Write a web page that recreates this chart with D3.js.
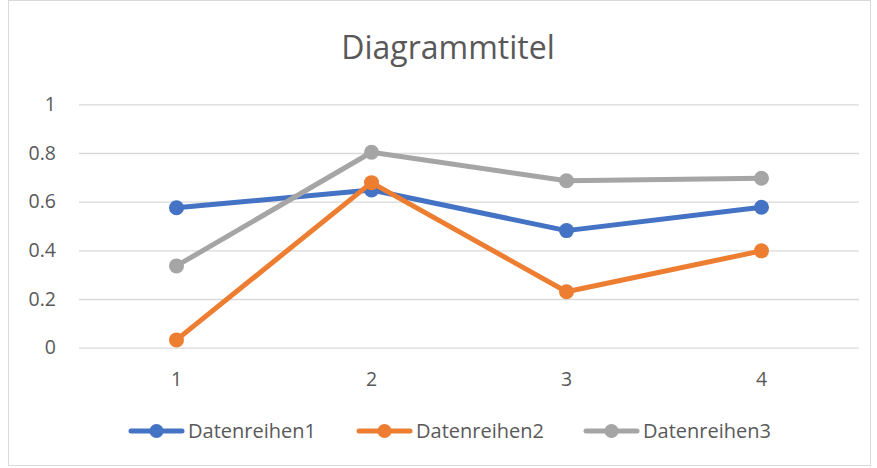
<!DOCTYPE html>
<html>
<head>
<meta charset="utf-8">
<script src="https://cdn.jsdelivr.net/npm/d3@7"></script>
<style>
  body { margin: 0; background: #fff; }
  text { font-family: "Open Sans", "Noto Sans", sans-serif; fill: #595959; }
</style>
</head>
<body>
<svg id="chart" width="877" height="468"></svg>
<script>
// data
var categories = ["1", "2", "3", "4"];
var seriesNames = ["Datenreihen1", "Datenreihen2", "Datenreihen3"];
var values1 = [0.575, 0.648, 0.481, 0.577];
var values2 = [0.032, 0.678, 0.230, 0.398];
var values3 = [0.336, 0.803, 0.686, 0.696];
var yTicks = [0, 0.2, 0.4, 0.6, 0.8, 1];
var colors = ["#4472C4", "#ED7D31", "#A5A5A5"];

var svg = d3.select("#chart");

// chart frame
svg.append("rect")
	.attr("x", 8.5).attr("y", 0.5)
	.attr("width", 862).attr("height", 465)
	.attr("fill", "#fff")
	.attr("stroke", "#D9D9D9");

var margin = {left: 79, right: 859, top: 104.3, bottom: 347.7};

var x = d3.scaleBand()
	.domain(categories)
	.range([margin.left, margin.right]);

var y = d3.scaleLinear()
	.domain([0, 1])
	.range([margin.bottom, margin.top]);

// title
svg.append("text")
	.attr("x", 448).attr("y", 59)
	.attr("text-anchor", "middle")
	.style("font-size", "32px")
	.text("Diagrammtitel");

// gridlines
svg.append("g")
	.attr("transform", "translate(" + margin.left + ",0)")
	.call(d3.axisLeft(y).tickValues(yTicks).tickSize(-(margin.right - margin.left)).tickFormat(""))
	.call(function(g) { g.select(".domain").remove(); })
	.selectAll("line")
		.attr("stroke", "#D9D9D9")
		.attr("stroke-width", 1.3);

// y labels
svg.append("g")
	.attr("transform", "translate(56,0)")
	.call(d3.axisLeft(y).tickValues(yTicks).tickSize(0).tickPadding(0).tickFormat(d3.format("")))
	.call(function(g) { g.select(".domain").remove(); })
	.selectAll("text")
		.style("font-size", "19.5px")
		.style("font-family", null)
		.attr("fill", null);

// x labels
svg.append("g")
	.attr("transform", "translate(0," + (margin.bottom + 24) + ")")
	.call(d3.axisBottom(x).tickSize(0).tickPadding(0))
	.call(function(g) { g.select(".domain").remove(); })
	.selectAll("text")
		.style("font-size", "19.5px")
		.style("font-family", null)
		.attr("fill", null);

var allSeries = [values1, values2, values3];

var line = d3.line()
	.x(function(d, i) { return x(categories[i]) + x.bandwidth() / 2; })
	.y(function(d) { return y(d); });

allSeries.forEach(function(vals, s) {
	svg.append("path")
		.datum(vals)
		.attr("fill", "none")
		.attr("stroke", colors[s])
		.attr("stroke-width", 5)
		.attr("stroke-linejoin", "round")
		.attr("d", line);

	svg.selectAll("circle.s" + s)
		.data(vals)
		.enter()
		.append("circle")
			.attr("class", "s" + s)
			.attr("cx", function(d, i) { return x(categories[i]) + x.bandwidth() / 2; })
			.attr("cy", function(d) { return y(d); })
			.attr("r", 7.5)
			.attr("fill", colors[s]);
});

// legend
var legendX = [129, 357, 584];
var legend = svg.selectAll("g.legend")
	.data(seriesNames)
	.enter()
	.append("g")
		.attr("class", "legend")
		.attr("transform", function(d, i) { return "translate(" + legendX[i] + ",431)"; });

legend.append("line")
	.attr("x1", 2).attr("x2", 53)
	.attr("stroke", function(d, i) { return colors[i]; })
	.attr("stroke-width", 5)
	.attr("stroke-linecap", "round");

legend.append("circle")
	.attr("cx", 27.5).attr("r", 7)
	.attr("fill", function(d, i) { return colors[i]; });

legend.append("text")
	.attr("x", 59).attr("dy", "0.36em")
	.style("font-size", "20px")
	.text(function(d) { return d; });
</script>
</body>
</html>
